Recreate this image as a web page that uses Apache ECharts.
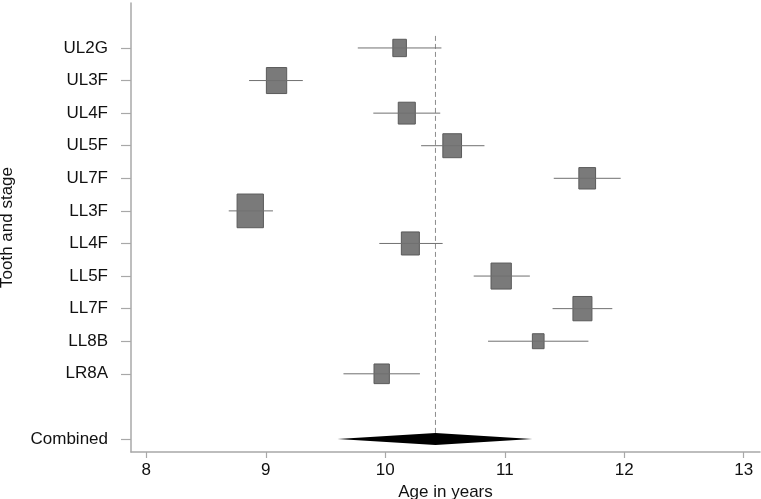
<!DOCTYPE html>
<html><head><meta charset="utf-8">
<script src="https://cdn.jsdelivr.net/npm/echarts@6/dist/echarts.min.js"></script>
<style>html,body{margin:0;padding:0;background:#fff}#c{width:761px;height:499px}</style>
</head><body><div id="c"></div>
<script>
const studies = ['UL2G','UL3F','UL4F','UL5F','UL7F','LL3F','LL4F','LL5F','LL7F','LL8B','LR8A'];
const estimate = [10.12, 9.09, 10.18, 10.56, 11.69, 8.87, 10.21, 10.97, 11.65, 11.28, 9.97];
const lower    = [9.77, 8.86, 9.90, 10.30, 11.41, 8.69, 9.95, 10.74, 11.40, 10.86, 9.65];
const upper    = [10.47, 9.31, 10.46, 10.83, 11.97, 9.06, 10.48, 11.21, 11.90, 11.70, 10.29];
const weights  = [5.0, 11.2, 7.9, 9.5, 7.6, 18.8, 8.8, 11.2, 9.8, 3.7, 6.4];
const combinedLabel = 'Combined';
const combinedLower = 9.60, combinedEstimate = 10.42, combinedUpper = 11.23;
const xTicks = [8, 9, 10, 11, 12, 13];

const combinedRow = studies.length + 2;
const rowLabels = {};
studies.forEach((s, i) => rowLabels[i + 1] = s);
rowLabels[combinedRow] = combinedLabel;
const yTicks = Object.keys(rowLabels).map(Number);

const FONT = 'Liberation Sans, Arial, sans-serif';
const chart = echarts.init(document.getElementById('c'));
chart.setOption({
  animation: false,
  backgroundColor: '#fff',
  grid: { left: 131, right: 1, top: 3, bottom: 47, containLabel: false, outerBoundsMode: 'none' },
  xAxis: {
    type: 'value', min: 7.872, max: 13.136, position: 'bottom',
    axisLine: { show: true, onZero: false, lineStyle: { color: '#a8a8a8', width: 1.5 } },
    axisTick: { show: true, length: 6, customValues: xTicks, lineStyle: { color: '#a8a8a8', width: 1.2 } },
    axisLabel: { customValues: xTicks, margin: 10, fontSize: 17, color: '#111', fontFamily: FONT },
    splitLine: { show: false },
    name: 'Age in years', nameLocation: 'middle', nameGap: 25,
    nameTextStyle: { fontSize: 17, color: '#111', fontFamily: FONT }
  },
  yAxis: {
    type: 'value', inverse: true, min: -0.38, max: 13.4, position: 'left',
    axisLine: { show: true, onZero: false, lineStyle: { color: '#a8a8a8', width: 1.5 } },
    axisTick: { show: true, length: 10, customValues: yTicks, lineStyle: { color: '#a8a8a8', width: 1.2 } },
    axisLabel: { customValues: yTicks, margin: 23, fontSize: 17, color: '#111', fontFamily: FONT,
      formatter: v => rowLabels[Math.round(v)] || '' },
    splitLine: { show: false },
    name: 'Tooth and stage', nameLocation: 'middle', nameGap: 115, nameRotate: 90,
    nameTextStyle: { fontSize: 17, color: '#111', fontFamily: FONT }
  },
  series: [
    {
      type: 'custom', clip: false, silent: true,
      data: [[combinedEstimate, 0.63, combinedRow]],
      renderItem: (params, api) => {
        const a = api.coord([api.value(0), api.value(1)]);
        const b = api.coord([api.value(0), api.value(2)]);
        return { type: 'line', shape: { x1: a[0], y1: a[1], x2: b[0], y2: b[1] },
          style: { stroke: '#8c8c8c', lineWidth: 1, lineDash: [5, 3] } };
      }
    },
    {
      type: 'custom', clip: false, silent: true,
      data: studies.map((s, i) => [estimate[i], lower[i], upper[i], i + 1, weights[i]]),
      encode: { x: [0, 1, 2], y: 3 },
      renderItem: (params, api) => {
        const y = api.value(3);
        const c = api.coord([api.value(0), y]);
        const l = api.coord([api.value(1), y]);
        const r = api.coord([api.value(2), y]);
        const w = Math.sqrt(api.value(4)) * 6.07;
        const h = w * 1.28;
        return { type: 'group', children: [
          { type: 'rect', shape: { x: c[0] - w / 2, y: c[1] - h / 2, width: w, height: h },
            style: { fill: '#7a7a7a', stroke: '#5a5a5a', lineWidth: 1 } },
          { type: 'line', shape: { x1: l[0], y1: l[1], x2: r[0], y2: r[1] },
            style: { stroke: '#707070', lineWidth: 1 } }
        ] };
      }
    },
    {
      type: 'custom', clip: false, silent: true,
      data: [[combinedLower, combinedEstimate, combinedUpper, combinedRow]],
      encode: { x: [0, 1, 2], y: 3 },
      renderItem: (params, api) => {
        const y = api.value(3);
        const l = api.coord([api.value(0), y]);
        const c = api.coord([api.value(1), y]);
        const r = api.coord([api.value(2), y]);
        return { type: 'polygon',
          shape: { points: [[l[0], l[1]], [c[0], c[1] - 6], [r[0], r[1]], [c[0], c[1] + 6]] },
          style: { fill: '#000' } };
      }
    }
  ]
});
</script></body></html>
